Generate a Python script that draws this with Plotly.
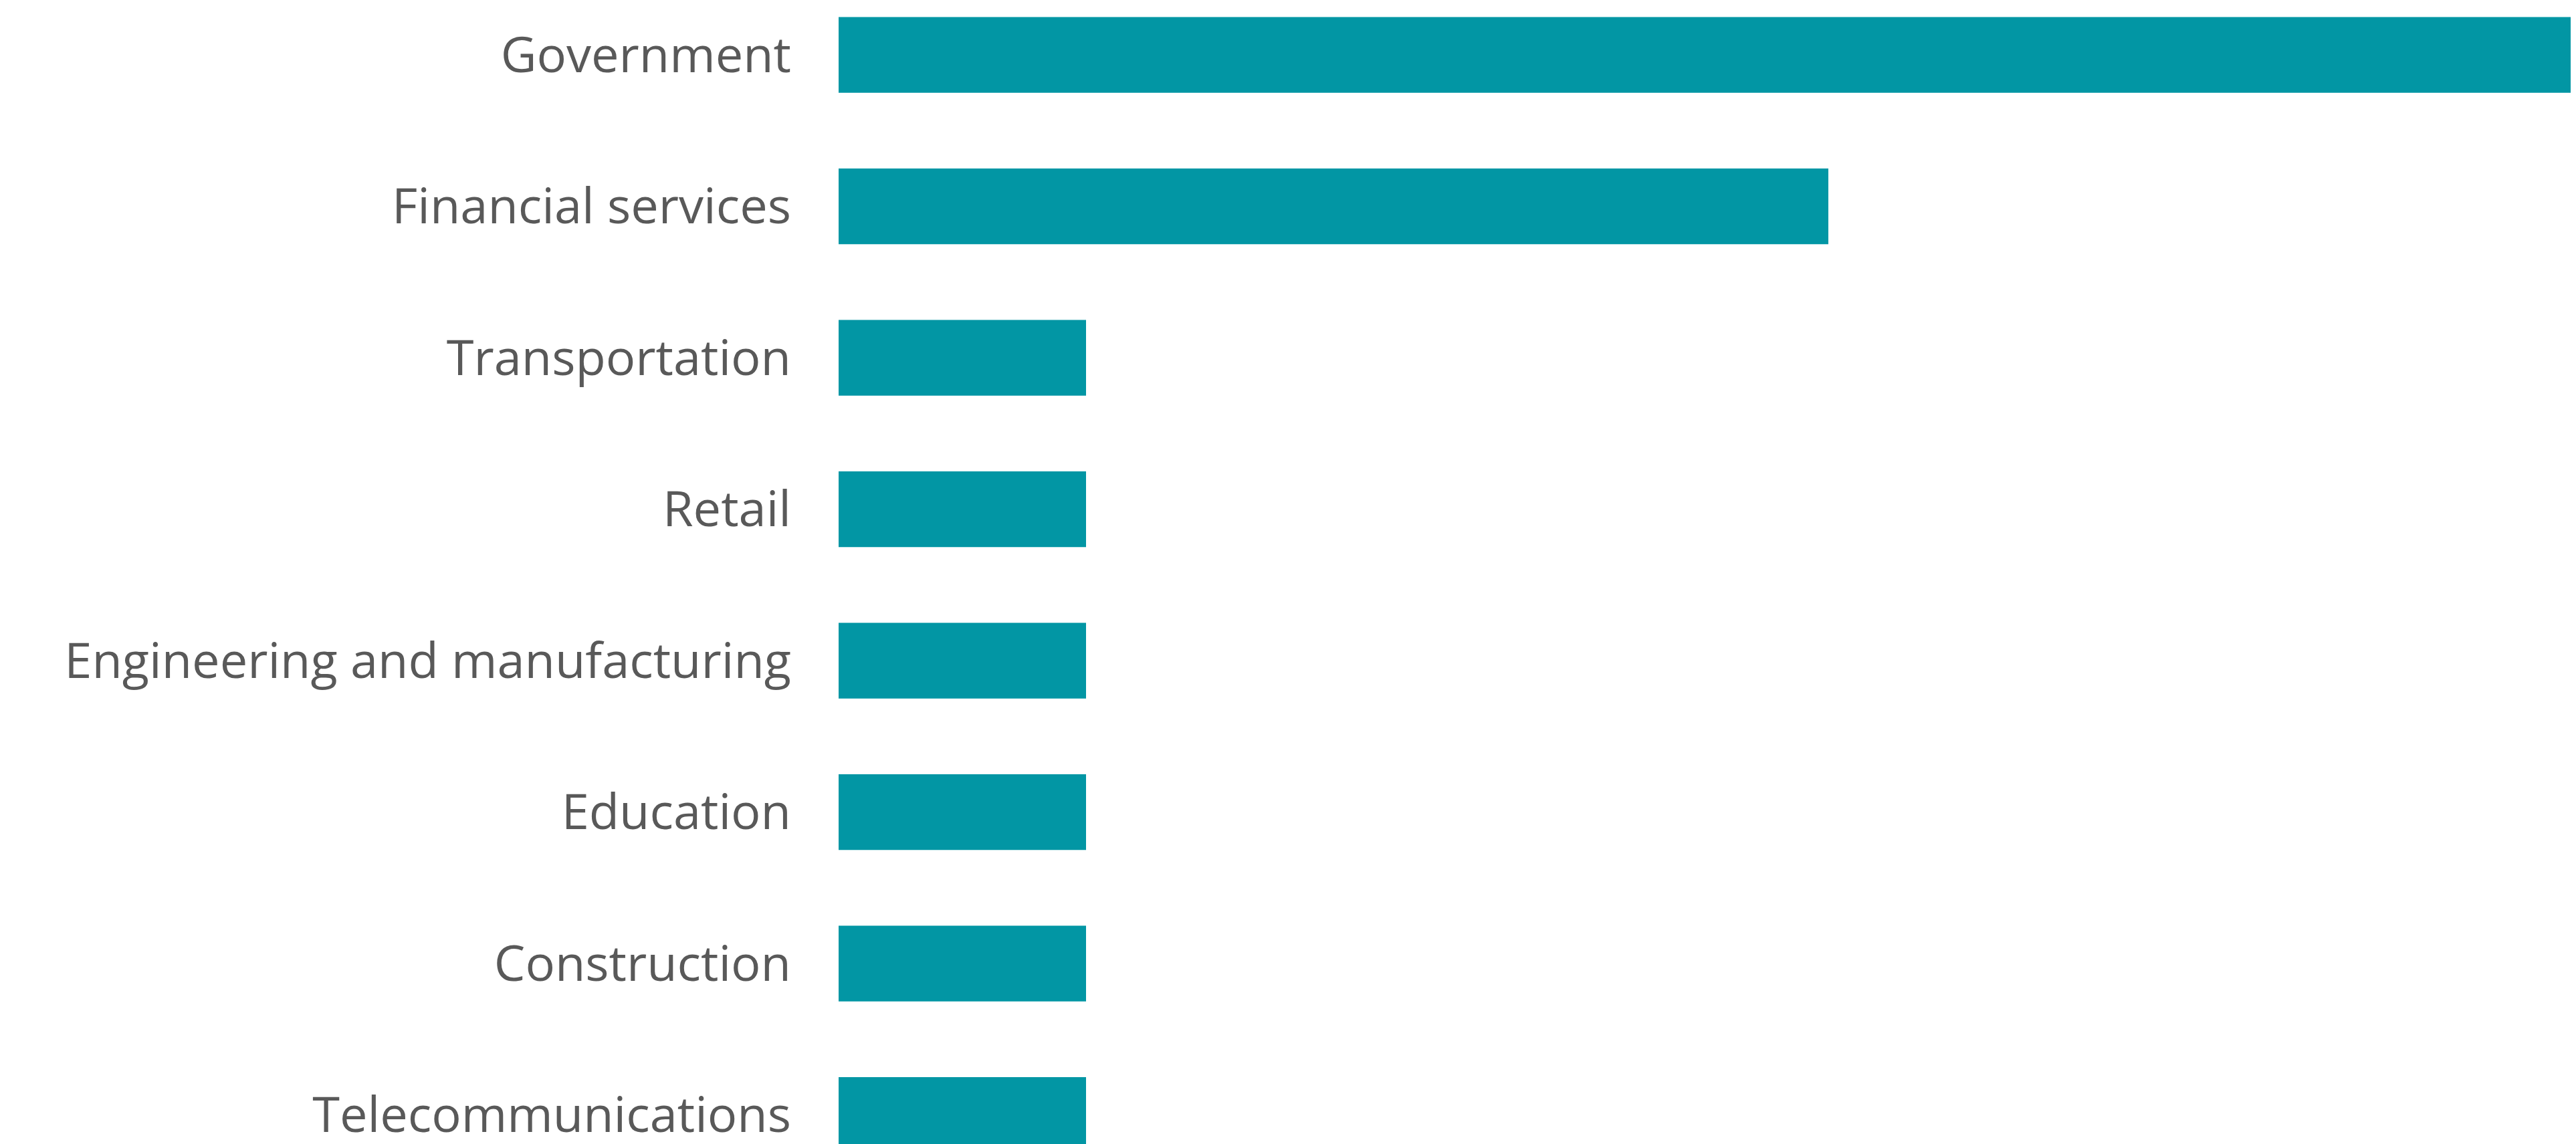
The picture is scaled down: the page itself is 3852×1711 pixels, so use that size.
import plotly.graph_objects as go

categories = [
    "Government",
    "Financial services",
    "Transportation",
    "Retail",
    "Engineering and manufacturing",
    "Education",
    "Construction",
    "Telecommunications",
]
values = [7, 4, 1, 1, 1, 1, 1, 1]

BAR_COLOR = "#0296a4"
TEXT_COLOR = "#595959"

fig = go.Figure(
    go.Bar(
        x=values,
        y=categories,
        orientation="h",
        marker=dict(color=BAR_COLOR, line=dict(width=0)),
        hoverinfo="skip",
    )
)

fig.update_layout(
    width=3844,
    height=1703,
    margin=dict(l=1246, r=8, t=0, b=0, pad=0),
    paper_bgcolor="white",
    plot_bgcolor="white",
    bargap=0.5,
    showlegend=False,
    font=dict(family="Open Sans", size=74, color=TEXT_COLOR),
)
fig.update_xaxes(
    range=[0, 7],
    visible=False,
    showgrid=False,
    zeroline=False,
    fixedrange=True,
)
fig.update_yaxes(
    type="category",
    categoryorder="array",
    categoryarray=categories,
    range=[7.192, -0.327],
    showgrid=False,
    zeroline=False,
    showline=False,
    ticks="",
    ticklabelstandoff=70,
    automargin=False,
    tickfont=dict(family="Open Sans", size=74, color=TEXT_COLOR),
)

fig.write_html("out.html")
